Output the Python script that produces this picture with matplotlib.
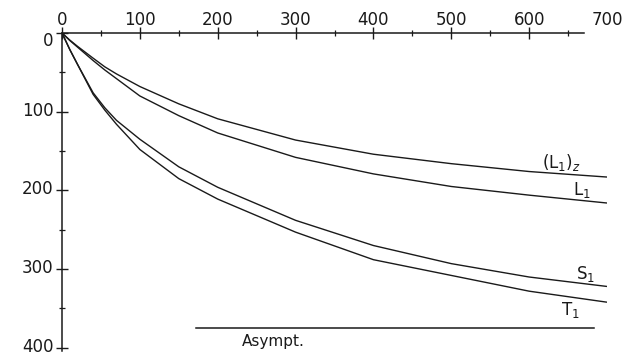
import matplotlib
matplotlib.use("Agg")
import matplotlib.pyplot as plt
import matplotlib.transforms as mtransforms
from matplotlib.ticker import MultipleLocator

# values (y grows downward)
xValues = [0, 10, 20, 40, 55, 70, 100, 150, 200, 300, 400, 500, 600, 700]
l1z = [0, 9, 17, 32, 43, 52, 68, 90, 109, 136, 154, 166, 176, 183]
l1 = [0, 9.5, 18, 35, 47, 58, 80, 105, 127, 158, 179, 195, 206, 216]
s1 = [0, 21, 40, 76, 95, 111, 135, 170, 196, 238, 270, 293, 310, 322]
t1 = [0, 21, 40, 78, 98, 116, 148, 185, 211, 253, 288, 308, 328, 342]
asymptX = [172, 683]
asymptY = [375, 375]

curveNames = ["(L$_1$)$_z$", "L$_1$", "S$_1$", "T$_1$"]
labelPos = [(641, 164), (668, 199), (672, 306), (653, 352)]

LINE = "#1a1a1a"

fig = plt.figure(figsize=(6.28, 3.56), dpi=100)
ax = fig.add_axes([62 / 628, 1 - 351 / 356, 545 / 628, 318 / 356])

for series in [l1z, l1, s1, t1]:
    ax.plot(xValues, series, color=LINE, lw=1.0, solid_capstyle="butt")
ax.plot(asymptX, asymptY, color=LINE, lw=1.1)

for name, (lx, ly) in zip(curveNames, labelPos):
    ax.text(lx, ly, name, fontsize=12, color=LINE, ha="center", va="center")
ax.text(231, 392, "Asympt.", fontsize=11, color=LINE, ha="left", va="center")

ax.set_xlim(0, 700)
ax.set_ylim(404, 0)

ax.spines["right"].set_visible(False)
ax.spines["bottom"].set_visible(False)
ax.spines["top"].set_bounds(0, 670)
ax.spines["left"].set_bounds(0, 404)
for s in ["top", "left"]:
    ax.spines[s].set_color(LINE)
    ax.spines[s].set_linewidth(1.1)

ax.xaxis.set_ticks_position("top")
ax.xaxis.set_minor_locator(MultipleLocator(50))
ax.yaxis.set_minor_locator(MultipleLocator(50))
ax.set_xticks(range(0, 701, 100))
ax.set_yticks(range(0, 401, 100))

ax.tick_params(which="major", direction="inout", length=8, width=1.0,
               color=LINE, labelcolor=LINE, labelsize=12)
ax.tick_params(which="minor", direction="inout", length=4, width=0.9, color=LINE)
ax.tick_params(axis="x", which="both", top=True, bottom=False, pad=-1)
ax.tick_params(axis="y", which="both", pad=2)

# the top axis stops short of 700, so only the label is kept there
ax.xaxis.get_major_ticks()[-1].tick2line.set_visible(False)
for t in ax.xaxis.get_minor_ticks():
    t.tick2line.set_visible(t.get_loc() < 680)

# y labels sit a little above their ticks in the original, the 0 a bit below
for i, lab in enumerate(ax.get_yticklabels()):
    dy = -6 if i == 0 else 3
    shift = mtransforms.ScaledTranslation(0, dy / 100, fig.dpi_scale_trans)
    lab.set_transform(lab.get_transform() + shift)

fig.savefig("out.png", dpi=100)
